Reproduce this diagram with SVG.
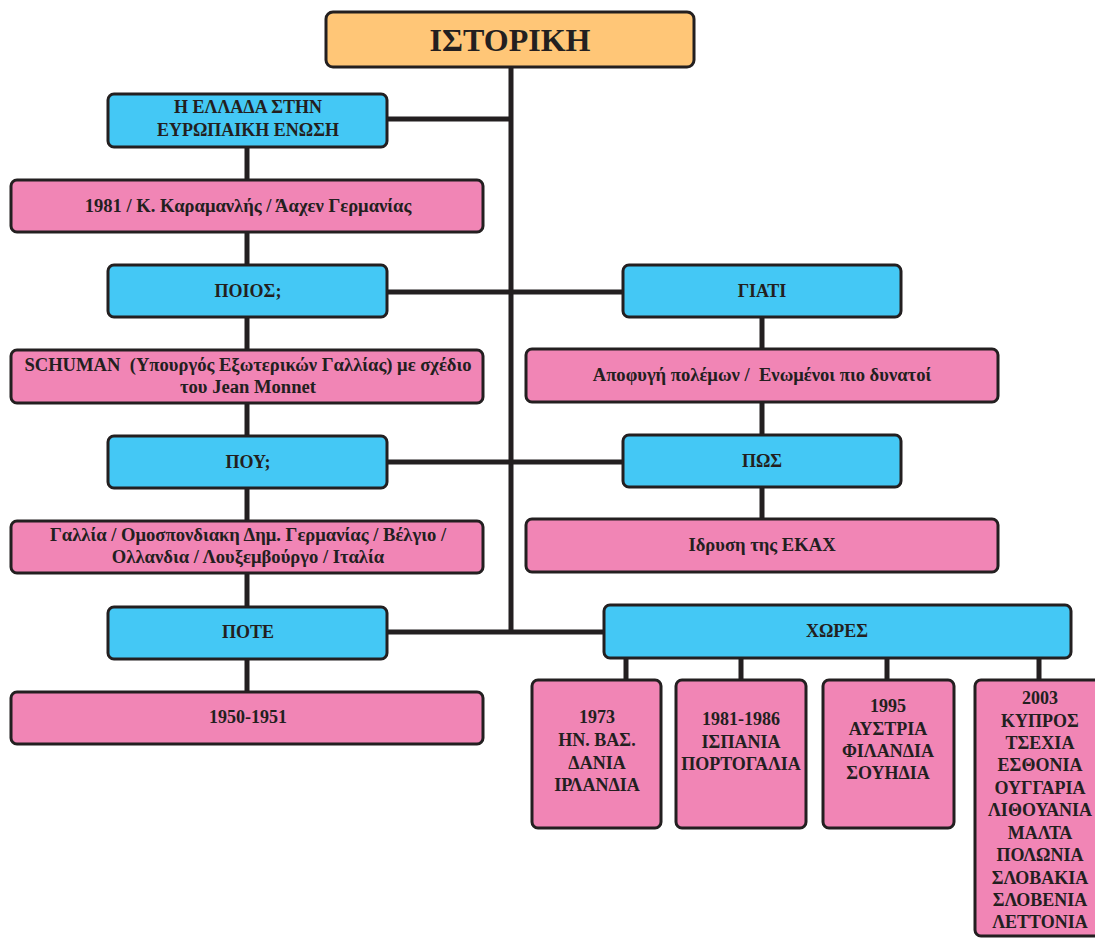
<svg xmlns="http://www.w3.org/2000/svg" width="1095" height="938" viewBox="0 0 1095 938">
<style>
.b{stroke:#231F20;stroke-width:3}
.o{fill:#FFC677}
.c{fill:#44C8F5}
.p{fill:#F185B5}
.t{font-family:"Liberation Serif","Times New Roman",serif;font-weight:bold;fill:#231F20;text-anchor:middle;font-size:18px}
.l{font-size:18.6px}
.big{font-size:32px}
.ln{stroke:#231F20;stroke-width:5;fill:none}
</style>
<rect width="1095" height="938" fill="#fff"/>
<g id="connectors">
<path class="ln" d="M511 67V634"/>
<path class="ln" d="M387 119H511"/>
<path class="ln" d="M387 292H623"/>
<path class="ln" d="M387 462H623"/>
<path class="ln" d="M387 632H604"/>
<path class="ln" d="M247 147V180M247 232V265M247 317V350M247 403V436M247 488V521M247 573V607M247 659V692"/>
<path class="ln" d="M762 317V349M762 402V435M762 487V519"/>
<path class="ln" d="M626 658V680M741 658V680M887 658V680M1039 658V680"/>
</g>
<g id="n-title"><rect class="b o" x="326" y="12" width="368" height="55" rx="7"/><text class="t big" x="510" y="51">ΙΣΤΟΡΙΚΗ</text></g>
<g id="n-greece"><rect class="b c" x="108" y="94" width="279" height="53" rx="6"/><text class="t" x="248" y="113">Η ΕΛΛΑΔΑ ΣΤΗΝ</text><text class="t" x="248" y="136">ΕΥΡΩΠΑΙΚΗ ΕΝΩΣΗ</text></g>
<g id="n-1981"><rect class="b p" x="11" y="180" width="472" height="52" rx="6"/><text class="t l" x="248" y="212">1981 / Κ. Καραμανλής / Άαχεν Γερμανίας</text></g>
<g id="n-who"><rect class="b c" x="108" y="265" width="279" height="52" rx="6"/><text class="t" x="248" y="297">ΠΟΙΟΣ;</text></g>
<g id="n-schuman"><rect class="b p" x="11" y="350" width="472" height="53" rx="6"/><text class="t l" x="248" y="371">SCHUMAN&#160; (Υπουργός Εξωτερικών Γαλλίας) με σχέδιο</text><text class="t l" x="248" y="393">του Jean Monnet</text></g>
<g id="n-where"><rect class="b c" x="108" y="436" width="279" height="52" rx="6"/><text class="t" x="248" y="468">ΠΟΥ;</text></g>
<g id="n-countries6"><rect class="b p" x="11" y="521" width="472" height="52" rx="6"/><text class="t l" x="248" y="541">Γαλλία / Ομοσπονδιακη Δημ. Γερμανίας / Βέλγιο /</text><text class="t l" x="248" y="563">Ολλανδια / Λουξεμβούργο / Ιταλία</text></g>
<g id="n-when"><rect class="b c" x="108" y="607" width="279" height="52" rx="6"/><text class="t" x="248" y="638">ΠΟΤΕ</text></g>
<g id="n-1950"><rect class="b p" x="11" y="692" width="472" height="52" rx="6"/><text class="t" x="248" y="723">1950-1951</text></g>
<g id="n-why"><rect class="b c" x="623" y="265" width="278" height="52" rx="6"/><text class="t" x="762" y="297">ΓΙΑΤΙ</text></g>
<g id="n-avoid"><rect class="b p" x="526" y="349" width="472" height="53" rx="6"/><text class="t l" x="762" y="381">Αποφυγή πολέμων /&#160; Ενωμένοι πιο δυνατοί</text></g>
<g id="n-how"><rect class="b c" x="623" y="435" width="278" height="52" rx="6"/><text class="t" x="762" y="467">ΠΩΣ</text></g>
<g id="n-ecsc"><rect class="b p" x="526" y="519" width="472" height="53" rx="6"/><text class="t l" x="762" y="551">Ιδρυση της ΕΚΑΧ</text></g>
<g id="n-countries"><rect class="b c" x="604" y="605" width="467" height="53" rx="6"/><text class="t" x="837" y="637">ΧΩΡΕΣ</text></g>
<g id="n-1973"><rect class="b p" x="532" y="680" width="129" height="148" rx="6"/><text class="t" x="597" y="723">1973</text><text class="t" x="597" y="746">ΗΝ. ΒΑΣ.</text><text class="t" x="597" y="769">ΔΑΝΙΑ</text><text class="t" x="597" y="791">ΙΡΛΑΝΔΙΑ</text></g>
<g id="n-1981b"><rect class="b p" x="676" y="680" width="130" height="148" rx="6"/><text class="t" x="741" y="725">1981-1986</text><text class="t" x="741" y="748">ΙΣΠΑΝΙΑ</text><text class="t" x="741" y="770">ΠΟΡΤΟΓΑΛΙΑ</text></g>
<g id="n-1995"><rect class="b p" x="823" y="680" width="131" height="148" rx="6"/><text class="t" x="888" y="712">1995</text><text class="t" x="888" y="735">ΑΥΣΤΡΙΑ</text><text class="t" x="888" y="757">ΦΙΛΑΝΔΙΑ</text><text class="t" x="888" y="779">ΣΟΥΗΔΙΑ</text></g>
<g id="n-2003"><rect class="b p" x="975" y="680" width="130" height="256" rx="6"/><text class="t" x="1040" y="704">2003</text><text class="t" x="1040" y="727">ΚΥΠΡΟΣ</text><text class="t" x="1040" y="749">ΤΣΕΧΙΑ</text><text class="t" x="1040" y="771">ΕΣΘΟΝΙΑ</text><text class="t" x="1040" y="794">ΟΥΓΓΑΡΙΑ</text><text class="t" x="1040" y="816">ΛΙΘΟΥΑΝΙΑ</text><text class="t" x="1040" y="839">ΜΑΛΤΑ</text><text class="t" x="1040" y="861">ΠΟΛΩΝΙΑ</text><text class="t" x="1040" y="884">ΣΛΟΒΑΚΙΑ</text><text class="t" x="1040" y="906">ΣΛΟΒΕΝΙΑ</text><text class="t" x="1040" y="928">ΛΕΤΤΟΝΙΑ</text></g>
</svg>
